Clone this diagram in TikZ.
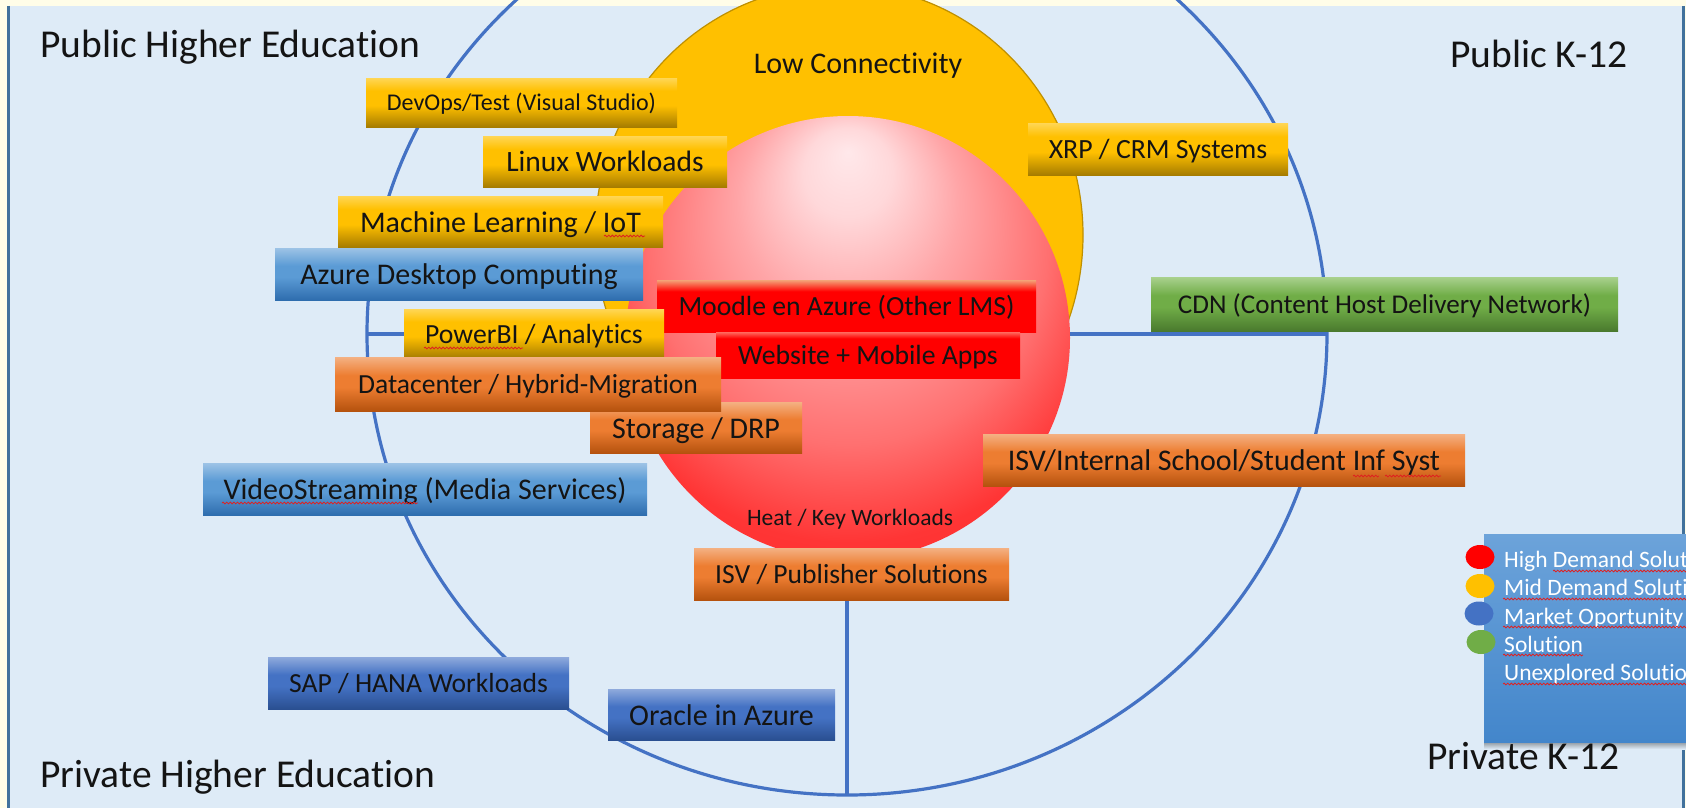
\documentclass[tikz,border=0pt]{standalone}
\usepackage{fontspec}
\setmainfont{Carlito}[Ligatures={NoCommon,NoContextual}]
\usetikzlibrary{shapes.geometric,decorations.pathmorphing}
\definecolor{bgblue}{HTML}{DEEBF7}
\definecolor{cream}{HTML}{FFFDE8}
\definecolor{frameblue}{HTML}{41719C}
\definecolor{ringblue}{HTML}{4472C4}
\definecolor{gold}{HTML}{FFC000}
\definecolor{golddark}{HTML}{BF9000}
\definecolor{ylight}{HTML}{FFD655}
\definecolor{ymid}{HTML}{FFC000}
\definecolor{ydark}{HTML}{A67C00}
\definecolor{olight}{HTML}{F4B183}
\definecolor{omid}{HTML}{ED7D31}
\definecolor{odark}{HTML}{B5520E}
\definecolor{blight}{HTML}{9DC3E6}
\definecolor{bmid}{HTML}{5B9BD5}
\definecolor{bdark}{HTML}{2E6DAE}
\definecolor{dlight}{HTML}{8FAADC}
\definecolor{dmid}{HTML}{4472C4}
\definecolor{ddark}{HTML}{2A4F91}
\definecolor{glight}{HTML}{A9D18E}
\definecolor{gmid}{HTML}{70AD47}
\definecolor{gdark}{HTML}{4A7A2E}
\definecolor{rsalmon}{HTML}{F4A378}
\definecolor{rlight}{HTML}{FF6A5E}
\definecolor{rred}{HTML}{FF0000}
\definecolor{rb0}{HTML}{FFE8EA}
\definecolor{rb1}{HTML}{FFD8DA}
\definecolor{rb2}{HTML}{FFA5A7}
\definecolor{rb3}{HTML}{FF7070}
\definecolor{rb4}{HTML}{FF3535}
\definecolor{rb5}{HTML}{FF2020}
\definecolor{legtop}{HTML}{6CA3DA}
\definecolor{legbot}{HTML}{4386CB}
\definecolor{lred}{HTML}{FF0000}
\definecolor{lyel}{HTML}{FFC000}
\definecolor{lblu}{HTML}{4472C4}
\definecolor{lgrn}{HTML}{70AD47}
\definecolor{squigred}{HTML}{E02020}
\definecolor{txt}{HTML}{141414}
\pgfdeclareverticalshading{yelbox}{100bp}{color(0bp)=(ydark); color(25bp)=(ydark); color(47bp)=(ymid); color(62bp)=(ymid); color(75bp)=(ylight); color(100bp)=(ylight)}
\pgfdeclareverticalshading{orabox}{100bp}{color(0bp)=(odark); color(25bp)=(odark); color(47bp)=(omid); color(58bp)=(omid); color(75bp)=(olight); color(100bp)=(olight)}
\pgfdeclareverticalshading{blubox}{100bp}{color(0bp)=(bdark); color(25bp)=(bdark); color(47bp)=(bmid); color(58bp)=(bmid); color(75bp)=(blight); color(100bp)=(blight)}
\pgfdeclareverticalshading{dblbox}{100bp}{color(0bp)=(ddark); color(25bp)=(ddark); color(47bp)=(dmid); color(58bp)=(dmid); color(75bp)=(dlight); color(100bp)=(dlight)}
\pgfdeclareverticalshading{grnbox}{100bp}{color(0bp)=(gdark); color(25bp)=(gdark); color(47bp)=(gmid); color(58bp)=(gmid); color(75bp)=(glight); color(100bp)=(glight)}
\pgfdeclareverticalshading{redboxa}{100bp}{color(0bp)=(rred); color(64bp)=(rred); color(75bp)=(rsalmon); color(100bp)=(rsalmon)}
\pgfdeclareverticalshading{redboxb}{100bp}{color(0bp)=(rred); color(68bp)=(rred); color(75bp)=(rlight); color(100bp)=(rlight)}
\pgfdeclareverticalshading{legshade}{100bp}{color(0bp)=(legbot); color(25bp)=(legbot); color(75bp)=(legtop); color(100bp)=(legtop)}
\pgfdeclareradialshading{redball}{\pgfpoint{0bp}{21bp}}{color(0bp)=(rb0); color(5bp)=(rb1); color(12.5bp)=(rb2); color(22.5bp)=(rb3); color(30bp)=(rb4); color(45bp)=(rb5)}
\begin{document}
\begin{tikzpicture}[x=1pt,y=-1pt,
  fs/.style={font=\fontsize{#1}{#1}\selectfont},
  bx/.style={fs=#1, inner sep=0pt, outer sep=0pt, text height={0.7*#1pt}, text depth=0pt, text=txt, shade},
  yel/.style={shading=yelbox},
  ora/.style={shading=orabox},
  blu/.style={shading=blubox},
  dbl/.style={shading=dblbox},
  grn/.style={shading=grnbox},
  quad/.style={fs=39.5, inner sep=0pt, text=txt},
  ringline/.style={draw=ringblue, line width=3.2pt},
  legtext/.style={fs=23.5, inner sep=0pt, text=white, anchor=base west},
  legdot/.style={ellipse, inner sep=0pt, minimum width=29pt, minimum height=24pt},
  squig/.style={draw=squigred, line width=0.8pt, decorate, decoration={snake, amplitude=0.9pt, segment length=3.6pt}}
]
\useasboundingbox (0,0) rectangle (1686,808);
\clip (0,0) rectangle (1686,808);
% background and frame
\fill[cream] (0,0) rectangle (1686,808);
\fill[bgblue] (8,6) rectangle (1684,808);
\draw[frameblue, line width=3pt] (8.5,6) -- (8.5,808);
\draw[frameblue, line width=3pt] (1683.5,6) -- (1683.5,808);
% outer ring and axes
\node[ellipse, draw=ringblue, line width=3.2pt, minimum width=960pt, minimum height=922pt, inner sep=0pt, outer sep=0pt] (ring) at (847,334) {};
\draw[ringline] (ring.west) -- (ring.east);
\draw[ringline] (ring.north) -- (ring.south);
% low connectivity zone
\node[ellipse, fill=gold, draw=golddark, line width=1.2pt, minimum width=488pt, minimum height=500pt, inner sep=0pt] (lowzone) at (839,235) {};
\node[fs=30, anchor=base, inner sep=0pt, text=txt] (lowlabel) at (858,74) {Low Connectivity};
% heat zone
\node[circle, shade, shading=redball, minimum size=444pt, inner sep=0pt] (heatzone) at (848,338) {};
\node[fs=23.5, anchor=base, inner sep=0pt, text=txt] (heatlabel) at (850,525) {Heat / Key Workloads};
% quadrant labels
\node[quad, anchor=base west] (pubhe) at (40,58) {Public Higher Education};
\node[quad, anchor=base west] (pubk) at (1450,67) {Public K-12};
\node[quad, anchor=base west] (privhe) at (40,787) {Private Higher Education};
% solution boxes
\node[bx=24, yel, minimum width=311pt, minimum height=49pt] (devops) at (521.5,102.5) {DevOps/Test (Visual Studio)};
\node[bx=29.5, yel, minimum width=244pt, minimum height=51pt] (linux) at (605,161.5) {Linux Workloads};
\node[bx=30, yel, minimum width=325pt, minimum height=51pt] (ml) at (500.5,221.5) {Machine Learning / IoT};
\node[bx=30, blu, minimum width=368pt, minimum height=52pt] (azd) at (459,274) {Azure Desktop Computing};
\node[bx=27.7, shading=redboxa, minimum width=379pt, minimum height=52pt] (moodle) at (846.5,306) {Moodle en Azure (Other LMS)};
\node[bx=27.7, shading=redboxb, minimum width=304pt, minimum height=46pt] (website) at (868,355) {Website + Mobile Apps};
\node[bx=27.7, yel, minimum width=260pt, minimum height=49pt] (powerbi) at (534,333.5) {PowerBI / Analytics};
\node[bx=30, ora, minimum width=212pt, minimum height=51pt] (storage) at (696,427.5) {Storage / DRP};
\node[bx=27.6, ora, minimum width=386pt, minimum height=54pt] (datac) at (528,384) {Datacenter / Hybrid-Migration};
\node[bx=30, blu, minimum width=444pt, minimum height=52pt] (video) at (425,489) {VideoStreaming (Media Services)};
\node[bx=27.6, ora, minimum width=315pt, minimum height=52pt] (isvpub) at (851.5,574) {ISV / Publisher Solutions};
\node[bx=30, ora, minimum width=482pt, minimum height=52pt] (isvint) at (1224,460) {ISV/Internal School/Student Inf Syst};
\node[bx=27.8, yel, minimum width=260pt, minimum height=52pt] (xrp) at (1158,149) {XRP / CRM Systems};
\node[bx=27.1, grn, minimum width=467pt, minimum height=54pt] (cdn) at (1384.5,304) {CDN (Content Host Delivery Network)};
\node[bx=27.6, dbl, minimum width=301pt, minimum height=52pt] (sap) at (418.5,683) {SAP / HANA Workloads};
\node[bx=30, dbl, minimum width=227pt, minimum height=51pt] (oracle) at (721.5,714.5) {Oracle in Azure};
% spelling squiggles
\draw[squig] (604,236) -- (645,236);
\draw[squig] (424,348) -- (523,348);
\draw[squig] (222,503) -- (418,503);
\draw[squig] (1353,476) -- (1379,476);
\draw[squig] (1385,476) -- (1441,476);
% legend
\shade[top color=black!35!bgblue, bottom color=bgblue] (1484,742) rectangle (1700,749);
\node[shade, shading=legshade, minimum width=216pt, minimum height=208pt, inner sep=0pt] (legbox) at (1592,638) {};
\node[legdot, fill=lred] (dotred) at (1480,557) {};
\node[legdot, fill=lyel] (dotyel) at (1480,586) {};
\node[legdot, fill=lblu] (dotblu) at (1479,613.5) {};
\node[legdot, fill=lgrn] (dotgrn) at (1481,642) {};
\node[legtext] (leg1) at (1504,567.5) {High Demand Solutions};
\node[legtext] (leg2) at (1504,595.8) {Mid Demand Solutions};
\node[legtext] (leg3) at (1504,624.1) {Market Oportunity};
\node[legtext] (leg4) at (1504,652.4) {Solution};
\node[legtext] (leg5) at (1504,680.7) {Unexplored Solutions};
\draw[squig] (1553,571) -- (1690,571);
\draw[squig] (1503,599) -- (1690,599);
\draw[squig] (1503,627) -- (1690,627);
\draw[squig] (1503,655) -- (1583,655);
\draw[squig] (1503,684) -- (1690,684);
\node[quad, anchor=base west] (privk) at (1427,769) {Private K-12};
\end{tikzpicture}
\end{document}
